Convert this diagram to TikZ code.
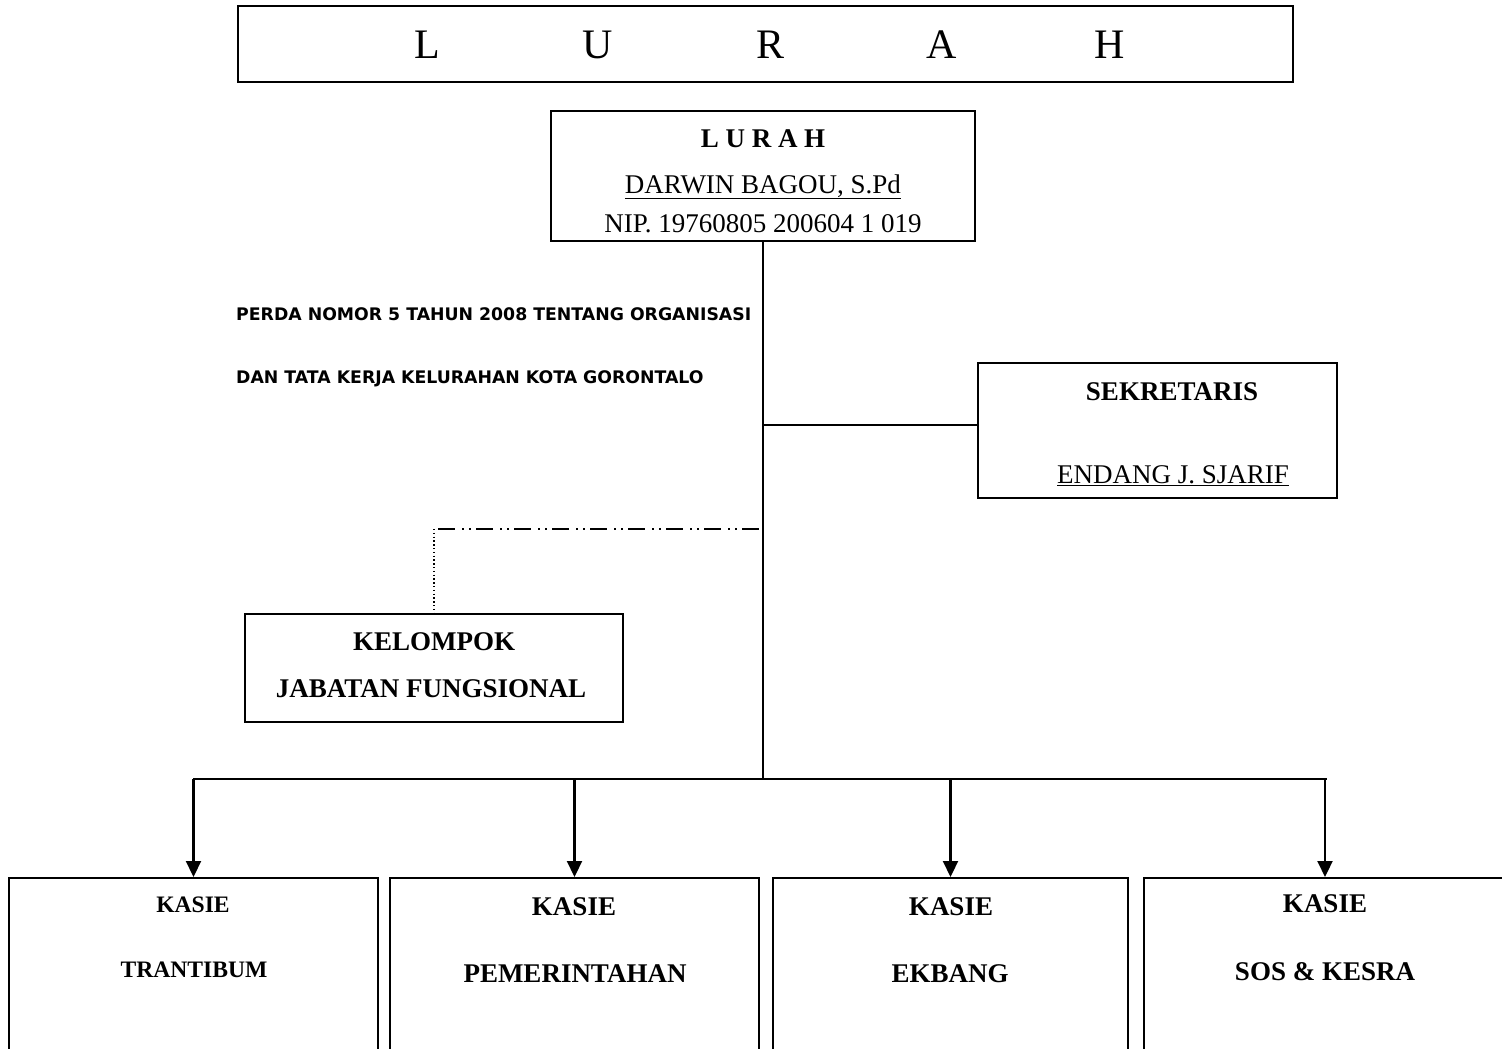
\documentclass[tikz,border=0pt]{standalone}
\usepackage{fontspec}
\setmainfont{Liberation Serif}
\newfontfamily\perdafont{DejaVu Sans}
\usetikzlibrary{arrows.meta}
\newcommand\sz[1]{\fontsize{#1}{#1}\selectfont}
\newcommand\myul[1]{\underline{#1}}
\tikzset{
  box/.style={draw, line width=1.6pt, inner sep=0pt, rectangle},
  txt/.style={inner sep=0pt, anchor=base, font=\sz{27}},
  btxt/.style={txt, font=\sz{27}\bfseries},
  ptxt/.style={inner sep=0pt, anchor=base west, font=\perdafont\bfseries\sz{17.3}},
  ttl/.style={inner sep=0pt, anchor=base, font=\sz{42}},
  link/.style={line width=1.6pt},
  arr/.style={line width=2.2pt, -{Triangle[length=16pt,width=15pt]}},
  dashdd/.style={line width=2pt, dash pattern=on 17pt off 7pt on 2pt off 5pt on 2pt off 5pt, dash phase=34pt},
  dots/.style={line width=1.4pt, dash pattern=on 1.4pt off 2.4pt}
}
\begin{document}
\begin{tikzpicture}[x=1pt,y=-1pt]
\clip (0,0) rectangle (1502,1049);
\fill[white] (0,0) rectangle (1502,1049);
% title
\node[box, minimum width=1055pt, minimum height=76pt] (title) at (765.5,44) {};
\node[ttl] (tL) at (427,59) {L};
\node[ttl] (tU) at (598,59) {U};
\node[ttl] (tR) at (770,59) {R};
\node[ttl] (tA) at (942,59) {A};
\node[ttl] (tH) at (1110,59) {H};
% lurah
\node[box, minimum width=424pt, minimum height=130pt] (lurah) at (763,176) {};
\node[btxt] (l1) at (763,147) {L U R A H};
\node[txt] (l2) at (763,193) {\myul{DARWIN BAGOU, S.Pd}};
\node[txt] (l3) at (763,232) {NIP. 19760805 200604 1 019};
% perda
\node[ptxt] (p1) at (236,320) {PERDA NOMOR 5 TAHUN 2008 TENTANG ORGANISASI};
\node[ptxt] (p2) at (236,383) {DAN TATA KERJA KELURAHAN KOTA GORONTALO};
% sekretaris
\node[box, minimum width=359pt, minimum height=135pt] (sek) at (1157.5,430.5) {};
\node[btxt] (s1) at (1172,400) {SEKRETARIS};
\node[txt] (s2) at (1173,483) {\myul{ENDANG J. SJARIF}};
% kelompok
\node[box, minimum width=378pt, minimum height=108pt] (kel) at (434,668) {};
\node[btxt] (k1t) at (434,650) {KELOMPOK};
\node[btxt] (k2t) at (431,697) {JABATAN FUNGSIONAL};
% kasie boxes
\node[box, minimum width=369pt, minimum height=220pt, anchor=north] (b1) at (193.5,877) {};
\node[box, minimum width=369pt, minimum height=220pt, anchor=north] (b2) at (574.5,877) {};
\node[box, minimum width=355pt, minimum height=220pt, anchor=north] (b3) at (950.5,877) {};
\node[box, minimum width=362pt, minimum height=220pt, anchor=north] (b4) at (1325,877) {};
\node[btxt, font=\sz{23.6}\bfseries] (b1a) at (193,912) {KASIE};
\node[btxt, font=\sz{23.6}\bfseries] (b1b) at (194,977) {TRANTIBUM};
\node[btxt] (b2a) at (574,915) {KASIE};
\node[btxt] (b2b) at (575,982) {PEMERINTAHAN};
\node[btxt] (b3a) at (951,915) {KASIE};
\node[btxt] (b3b) at (950,982) {EKBANG};
\node[btxt] (b4a) at (1325,912) {KASIE};
\node[btxt] (b4b) at (1325,980) {SOS \& KESRA};
% connectors
\coordinate (busM) at (763,779);
\coordinate (busL) at (193,779);
\coordinate (busR) at (1327,779);
\coordinate (tS) at (763,425);
\coordinate (tJ) at (763,529);
\coordinate (jf) at (434,529);
\draw[link] (lurah.south) -- (busM);
\draw[link] (busL) -- (busR);
\draw[link] (tS) -- (tS -| sek.west);
\draw[dashdd] (jf) -- (tJ);
\draw[dots] (jf) -- (kel.north);
\draw[arr] (b1.north |- busM) -- (b1.north);
\draw[arr] (b2.north |- busM) -- (b2.north);
\draw[arr] (b3.north |- busM) -- (b3.north);
\draw[arr] (b4.north |- busM) -- (b4.north);
\end{tikzpicture}
\end{document}
